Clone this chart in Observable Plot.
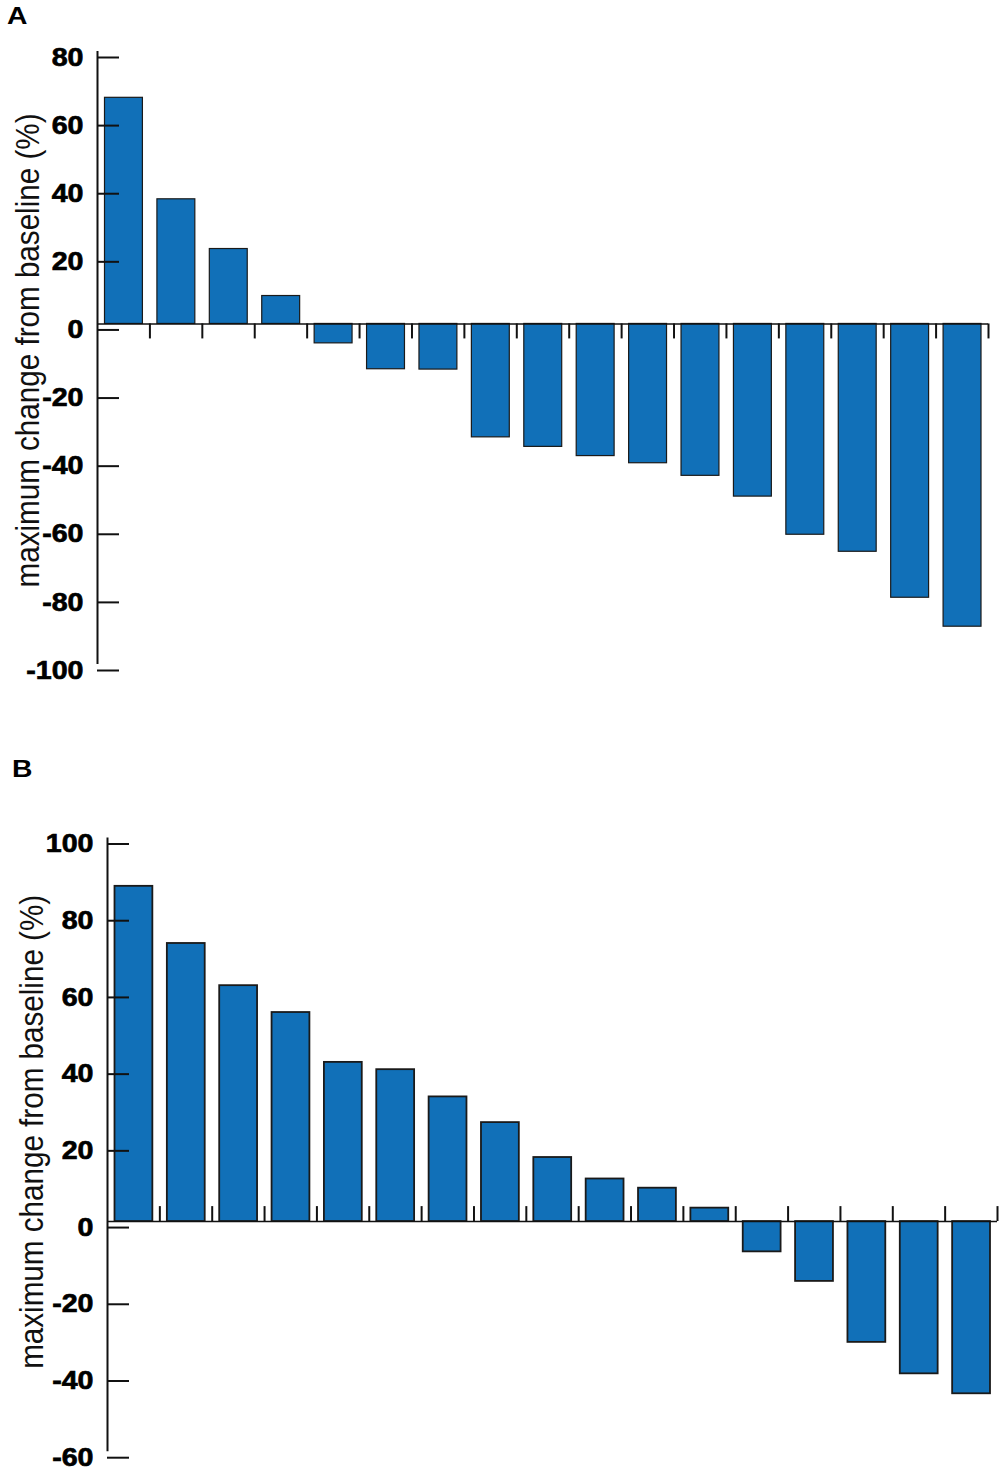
<!DOCTYPE html>
<html>
<head>
<meta charset="utf-8">
<script src="https://cdn.jsdelivr.net/npm/d3@7"></script>
<script src="https://cdn.jsdelivr.net/npm/@observablehq/plot@0.6"></script>
<style>
  body { margin: 0; background: #fff; font-family: "Liberation Sans", Arial, sans-serif; }
  .panel { position: relative; width: 1004px; }
  .letter { position: absolute; font-weight: bold; font-size: 24px; line-height: 24px; color: #000;
            transform: scaleX(1.18); transform-origin: left top; }
  svg { display: block; }
</style>
</head>
<body>
<div id="panelA" class="panel" style="padding-top:30px"><div class="letter" style="top:4px;left:7px">A</div></div>
<div id="panelB" class="panel" style="padding-top:80px"><div class="letter" style="top:47px;left:12px">B</div></div>
<script>
// ---- data ----
const patientsA = [1, 2, 3, 4, 5, 6, 7, 8, 9, 10, 11, 12, 13, 14, 15, 16, 17];
const changeA = [66.4, 36.6, 22, 8.2, -5.7, -13.3, -13.4, -33.3, -36.1, -38.8, -40.9, -44.6, -50.7, -61.9, -66.9, -80.4, -88.9];
const ticksA = [80, 60, 40, 20, 0, -20, -40, -60, -80, -100];

const patientsB = [1, 2, 3, 4, 5, 6, 7, 8, 9, 10, 11, 12, 13, 14, 15, 16, 17];
const changeB = [87.4, 72.5, 61.5, 54.5, 41.5, 39.6, 32.5, 25.8, 16.7, 11.1, 8.7, 3.5, -7.9, -15.6, -31.5, -39.7, -44.9];
const ticksB = [100, 80, 60, 40, 20, 0, -20, -40, -60];

const yLabel = "maximum change from baseline (%)";

const BLUE = "#1170b8";
const INK = "#111";

function panel({patients, change, ticks, domain, height, marginTop, marginBottom, marginLeft, marginRight,
                tickDir, labelSize, labelDx, labelDy, barStroke}) {
  const data = patients.map((p, i) => ({patient: p, change: change[i]}));
  const n = patients.length;
  const svg = Plot.plot({
    width: 1004,
    height,
    marginTop, marginBottom, marginLeft, marginRight,
    style: {fontFamily: '"Liberation Sans", Arial, sans-serif', background: "white", color: INK},
    x: {domain: [0, n], axis: null},
    y: {domain, axis: null},
    marks: [
      Plot.rect(data, {
        x1: d => d.patient - 1, x2: d => d.patient, y1: 0, y2: "change",
        insetLeft: 7.5, insetRight: 7,
        fill: BLUE, stroke: "#1a1a1a", strokeWidth: barStroke
      }),
      Plot.ruleY([0], {x1: 0, x2: n, stroke: INK, strokeWidth: 1.6}),
      Plot.ruleX(patients, {x: d => d, y1: 0, y2: tickDir, stroke: INK, strokeWidth: 2}),
      Plot.ruleX([0], {y1: domain[0], y2: domain[1], stroke: INK, strokeWidth: 2}),
      Plot.axisY({
        ticks, anchor: "left", tickSize: -22, tickPadding: 36, label: null,
        tickFormat: d => `${d}`, fontSize: 27, fontWeight: "bold",
        stroke: INK, strokeWidth: 2, fill: "#000", dy: 6
      }),
      Plot.text([yLabel], {
        text: d => d, frameAnchor: "left", rotate: -90,
        textAnchor: "middle", lineAnchor: "bottom",
        dx: labelDx, dy: labelDy, fontSize: labelSize, fill: "#111"
      })
    ]
  });
  const root = d3.select(svg);
  root.selectAll("text").each(function () {
    const t = d3.select(this);
    if (this.textContent === yLabel) {
      t.attr("textLength", 474).attr("lengthAdjust", "spacingAndGlyphs");
    } else if (ticks.map(String).includes(this.textContent)) {
      const tr = t.attr("transform") || "";
      t.attr("transform", tr + " scale(1.06,0.94)")
       .style("stroke", "#000").style("stroke-width", "0.7px");
    }
  });
  return svg;
}

document.getElementById("panelA").appendChild(panel({
  patients: patientsA, change: changeA, ticks: ticksA, domain: [-100, 80],
  height: 680, marginTop: 21, marginBottom: 46, marginLeft: 97, marginRight: 16,
  tickDir: -4.4, labelSize: 34, labelDx: -59, labelDy: -7.5, barStroke: 1.2
}));

document.getElementById("panelB").appendChild(panel({
  patients: patientsB, change: changeB, ticks: ticksB, domain: [-60, 100],
  height: 684, marginTop: 47.5, marginBottom: 22.8, marginLeft: 107, marginRight: 7,
  tickDir: 3.9, labelSize: 34, labelDx: -65, labelDy: -13, barStroke: 1.8
}));
</script>
</body>
</html>
